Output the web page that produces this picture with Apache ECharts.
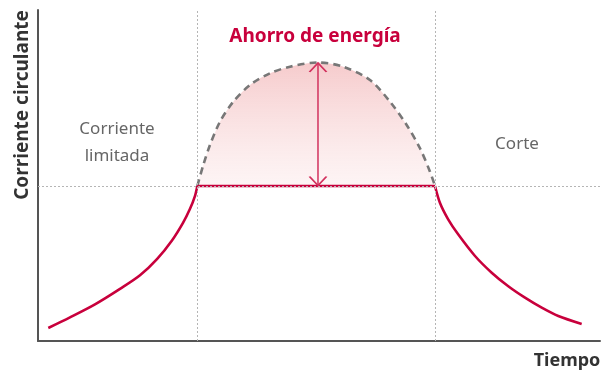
<!DOCTYPE html>
<html><head><meta charset="utf-8">
<script src="https://cdn.jsdelivr.net/npm/echarts@6/dist/echarts.min.js"></script>
<style>html,body{margin:0;padding:0;background:#fff}#c{width:606px;height:372px}</style>
</head><body><div id="c"></div>
<script>
// Curve samples (x: time 0-100, y: current 0-100)
var riseX = [1.83, 5.69, 10.14, 14.59, 18.15, 21.17, 23.84, 25.80, 27.05, 27.94, 28.35];
var riseY = [3.93, 7.13, 11.06, 15.74, 19.85, 24.74, 30.39, 35.71, 39.94, 43.87, 46.83];
var flatX = [28.35, 70.64];
var flatY = [46.83, 46.83];
var decayX = [70.64, 71.53, 73.01, 74.79, 77.76, 80.73, 83.68, 86.65, 89.63, 92.58, 96.74];
var decayY = [46.83, 41.69, 36.68, 32.15, 25.68, 20.63, 16.53, 13.08, 10.06, 7.55, 5.14];
var domeX = [28.35, 29.41, 30.60, 32.38, 34.75, 37.72, 41.28, 44.84, 49.82, 54.32, 59.07, 62.63, 65.60, 67.97, 69.75, 70.64];
var domeY = [46.83, 53.17, 59.21, 66.25, 72.30, 77.34, 80.88, 82.87, 84.14, 82.87, 78.85, 72.30, 65.26, 58.22, 51.15, 46.83];
var arrowX = [49.82, 49.82];
var arrowY = [84.0, 47.0];
var limitLevel = 46.83;
var phaseBounds = [28.35, 70.64];
var labels = {
  title: 'Ahorro de energía',
  yName: 'Corriente circulante',
  xName: 'Tiempo',
  phase1: 'Corriente\nlimitada',
  phase3: 'Corte'
};

function zip(xs, ys) { return xs.map(function (x, i) { return [x, ys[i]]; }); }

var RED = '#c8003c';
var chart = echarts.init(document.getElementById('c'));
var chevron = 'path://M0,10 L10,0 L20,10';
var FONT = '"Noto Sans", "Open Sans", sans-serif';

chart.setOption({
  animation: false,
  grid: { left: 38, right: 6, top: 10, bottom: 31 },
  xAxis: {
    type: 'value', min: 0, max: 100,
    axisLine: { show: true, onZero: false, lineStyle: { color: '#555', width: 2 } },
    axisTick: { show: false }, axisLabel: { show: false }, splitLine: { show: false }
  },
  yAxis: {
    type: 'value', min: 0, max: 100,
    axisLine: { show: true, onZero: false, lineStyle: { color: '#555', width: 2 } },
    axisTick: { show: false }, axisLabel: { show: false }, splitLine: { show: false }
  },
  series: [
    {
      type: 'line', data: [], silent: true,
      markLine: {
        symbol: 'none', silent: true, label: { show: false },
        lineStyle: { color: '#b5b5b5', type: [2, 2], width: 1 },
        data: [
          { xAxis: phaseBounds[0] },
          { xAxis: phaseBounds[1] },
          { yAxis: limitLevel }
        ]
      }
    },
    {
      type: 'line', data: zip(domeX, domeY), smooth: 0.3, showSymbol: false,
      lineStyle: { color: '#777', width: 2.6, type: [7, 5] },
      areaStyle: {
        origin: limitLevel,
        color: new echarts.graphic.LinearGradient(0, 0, 0, 1, [
          { offset: 0, color: 'rgba(238,160,162,0.78)' },
          { offset: 1, color: 'rgba(250,225,226,0.5)' }
        ])
      }
    },
    {
      type: 'line', showSymbol: true,
      symbol: chevron, symbolSize: [17, 9],
      lineStyle: { color: '#d2325e', width: 1.5 },
      itemStyle: { color: 'rgba(0,0,0,0)', borderColor: '#d2325e', borderWidth: 1.5 },
      data: [
        { value: [arrowX[0], arrowY[0]], symbolOffset: [0, 4.5] },
        { value: [arrowX[1], arrowY[1]], symbolRotate: 180, symbolOffset: [0, -4.5] }
      ]
    },
    { type: 'line', data: zip(riseX, riseY), smooth: 0.3, showSymbol: false, lineStyle: { color: RED, width: 2.6 } },
    { type: 'line', data: zip(flatX, flatY), showSymbol: false, lineStyle: { color: RED, width: 2.6 } },
    { type: 'line', data: zip(decayX, decayY), smooth: 0.3, showSymbol: false, lineStyle: { color: RED, width: 2.6 } }
  ],
  graphic: [
    { type: 'text', x: 315, y: 37, style: { text: labels.title, fill: RED, font: 'bold 19px ' + FONT, textAlign: 'center', textVerticalAlign: 'middle' } },
    { type: 'text', x: 117, y: 143, style: { text: labels.phase1, fill: '#666', font: '17px ' + FONT, textAlign: 'center', textVerticalAlign: 'middle', lineHeight: 27 } },
    { type: 'text', x: 517, y: 144, style: { text: labels.phase3, fill: '#666', font: '17px ' + FONT, textAlign: 'center', textVerticalAlign: 'middle' } },
    { type: 'text', x: 567, y: 361, style: { text: labels.xName, fill: '#333', font: 'bold 18px ' + FONT, textAlign: 'center', textVerticalAlign: 'middle' } },
    { type: 'text', x: 23, y: 105, rotation: Math.PI / 2, style: { text: labels.yName, fill: '#333', font: 'bold 19px ' + FONT, textAlign: 'center', textVerticalAlign: 'middle' } }
  ]
});
</script></body></html>
